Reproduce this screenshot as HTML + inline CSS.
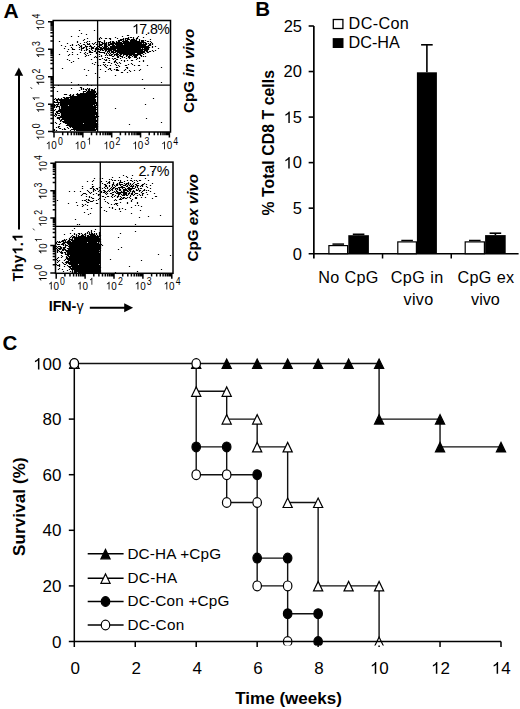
<!DOCTYPE html>
<html><head><meta charset="utf-8"><style>
html,body{margin:0;padding:0;background:#fff;overflow:hidden;}
svg{display:block;}
text{font-family:"Liberation Sans", sans-serif;fill:#000;}
</style></head><body>
<svg width="520" height="709" viewBox="0 0 520 709">
<defs><clipPath id="c0"><rect x="0" y="0" width="520" height="645.6"/></clipPath></defs>
<rect width="520" height="709" fill="#fff"/>
<text x="3.48" y="17.90" font-size="21" font-weight="bold" font-style="normal" letter-spacing="0.000">A</text>
<text x="255.27" y="16.00" font-size="20.5" font-weight="bold" font-style="normal" letter-spacing="0.000">B</text>
<text x="2.38" y="350.00" font-size="20.5" font-weight="bold" font-style="normal" letter-spacing="0.000">C</text>
<path d="M78.9 29.9h1.2v1.2h-1.2zM93.9 29.9h1.2v1.2h-1.2zM80.9 32.9h1.2v1.2h-1.2zM85.9 33.9h1.2v1.2h-1.2zM145.9 33.9h1.2v1.2h-1.2zM126.9 34.9h2.2v1.2h-2.2zM70.9 35.9h1.2v1.2h-1.2zM77.9 35.9h1.2v1.2h-1.2zM121.9 35.9h1.2v1.2h-1.2zM137.9 35.9h1.2v1.2h-1.2zM99.9 36.9h1.2v1.2h-1.2zM114.9 36.9h1.2v1.2h-1.2zM127.9 36.9h1.2v1.2h-1.2zM129.9 36.9h2.2v1.2h-2.2zM132.9 36.9h1.2v1.2h-1.2zM136.9 36.9h1.2v1.2h-1.2zM142.9 36.9h1.2v1.2h-1.2zM86.9 37.9h1.2v1.2h-1.2zM98.9 37.9h1.2v1.2h-1.2zM100.9 37.9h1.2v1.2h-1.2zM104.9 37.9h2.2v1.2h-2.2zM108.9 37.9h2.2v1.2h-2.2zM116.9 37.9h1.2v1.2h-1.2zM122.9 37.9h1.2v1.2h-1.2zM124.9 37.9h4.2v1.2h-4.2zM132.9 37.9h1.2v1.2h-1.2zM135.9 37.9h2.2v1.2h-2.2zM83.9 38.9h1.2v1.2h-1.2zM98.9 38.9h1.2v1.2h-1.2zM109.9 38.9h1.2v1.2h-1.2zM119.9 38.9h4.2v1.2h-4.2zM124.9 38.9h1.2v1.2h-1.2zM126.9 38.9h3.2v1.2h-3.2zM130.9 38.9h4.2v1.2h-4.2zM135.9 38.9h1.2v1.2h-1.2zM138.9 38.9h1.2v1.2h-1.2zM149.9 38.9h1.2v1.2h-1.2zM82.9 39.9h1.2v1.2h-1.2zM103.9 39.9h1.2v1.2h-1.2zM117.9 39.9h4.2v1.2h-4.2zM122.9 39.9h1.2v1.2h-1.2zM124.9 39.9h3.2v1.2h-3.2zM129.9 39.9h7.2v1.2h-7.2zM138.9 39.9h1.2v1.2h-1.2zM140.9 39.9h3.2v1.2h-3.2zM144.9 39.9h1.2v1.2h-1.2zM58.9 40.9h1.2v1.2h-1.2zM76.9 40.9h1.2v1.2h-1.2zM86.9 40.9h1.2v1.2h-1.2zM88.9 40.9h1.2v1.2h-1.2zM97.9 40.9h3.2v1.2h-3.2zM103.9 40.9h1.2v1.2h-1.2zM109.9 40.9h1.2v1.2h-1.2zM111.9 40.9h2.2v1.2h-2.2zM115.9 40.9h1.2v1.2h-1.2zM117.9 40.9h2.2v1.2h-2.2zM121.9 40.9h7.2v1.2h-7.2zM129.9 40.9h10.2v1.2h-10.2zM140.9 40.9h3.2v1.2h-3.2zM146.9 40.9h2.2v1.2h-2.2zM149.9 40.9h1.2v1.2h-1.2zM76.9 41.9h1.2v1.2h-1.2zM83.9 41.9h1.2v1.2h-1.2zM85.9 41.9h1.2v1.2h-1.2zM94.9 41.9h1.2v1.2h-1.2zM96.9 41.9h1.2v1.2h-1.2zM98.9 41.9h1.2v1.2h-1.2zM100.9 41.9h2.2v1.2h-2.2zM103.9 41.9h1.2v1.2h-1.2zM105.9 41.9h1.2v1.2h-1.2zM107.9 41.9h3.2v1.2h-3.2zM111.9 41.9h3.2v1.2h-3.2zM115.9 41.9h6.2v1.2h-6.2zM122.9 41.9h23.2v1.2h-23.2zM150.9 41.9h1.2v1.2h-1.2zM66.9 42.9h1.2v1.2h-1.2zM79.9 42.9h1.2v1.2h-1.2zM86.9 42.9h1.2v1.2h-1.2zM88.9 42.9h1.2v1.2h-1.2zM91.9 42.9h1.2v1.2h-1.2zM93.9 42.9h1.2v1.2h-1.2zM98.9 42.9h1.2v1.2h-1.2zM101.9 42.9h5.2v1.2h-5.2zM107.9 42.9h1.2v1.2h-1.2zM109.9 42.9h32.2v1.2h-32.2zM142.9 42.9h1.2v1.2h-1.2zM144.9 42.9h2.2v1.2h-2.2zM147.9 42.9h1.2v1.2h-1.2zM149.9 42.9h1.2v1.2h-1.2zM151.9 42.9h1.2v1.2h-1.2zM71.9 43.9h1.2v1.2h-1.2zM77.9 43.9h1.2v1.2h-1.2zM82.9 43.9h2.2v1.2h-2.2zM86.9 43.9h3.2v1.2h-3.2zM92.9 43.9h1.2v1.2h-1.2zM95.9 43.9h2.2v1.2h-2.2zM98.9 43.9h4.2v1.2h-4.2zM103.9 43.9h3.2v1.2h-3.2zM107.9 43.9h6.2v1.2h-6.2zM114.9 43.9h8.2v1.2h-8.2zM123.9 43.9h23.2v1.2h-23.2zM148.9 43.9h2.2v1.2h-2.2zM151.9 43.9h1.2v1.2h-1.2zM60.9 44.9h1.2v1.2h-1.2zM69.9 44.9h1.2v1.2h-1.2zM71.9 44.9h1.2v1.2h-1.2zM75.9 44.9h1.2v1.2h-1.2zM78.9 44.9h1.2v1.2h-1.2zM80.9 44.9h1.2v1.2h-1.2zM84.9 44.9h1.2v1.2h-1.2zM89.9 44.9h1.2v1.2h-1.2zM98.9 44.9h3.2v1.2h-3.2zM103.9 44.9h3.2v1.2h-3.2zM107.9 44.9h2.2v1.2h-2.2zM111.9 44.9h3.2v1.2h-3.2zM115.9 44.9h30.2v1.2h-30.2zM147.9 44.9h3.2v1.2h-3.2zM64.9 45.9h1.2v1.2h-1.2zM79.9 45.9h2.2v1.2h-2.2zM84.9 45.9h3.2v1.2h-3.2zM88.9 45.9h3.2v1.2h-3.2zM93.9 45.9h1.2v1.2h-1.2zM97.9 45.9h2.2v1.2h-2.2zM101.9 45.9h1.2v1.2h-1.2zM103.9 45.9h4.2v1.2h-4.2zM109.9 45.9h39.2v1.2h-39.2zM151.9 45.9h1.2v1.2h-1.2zM154.9 45.9h1.2v1.2h-1.2zM70.9 46.9h1.2v1.2h-1.2zM78.9 46.9h1.2v1.2h-1.2zM80.9 46.9h1.2v1.2h-1.2zM82.9 46.9h2.2v1.2h-2.2zM85.9 46.9h1.2v1.2h-1.2zM90.9 46.9h3.2v1.2h-3.2zM95.9 46.9h1.2v1.2h-1.2zM98.9 46.9h3.2v1.2h-3.2zM102.9 46.9h4.2v1.2h-4.2zM107.9 46.9h1.2v1.2h-1.2zM109.9 46.9h40.2v1.2h-40.2zM151.9 46.9h1.2v1.2h-1.2zM63.9 47.9h1.2v1.2h-1.2zM71.9 47.9h1.2v1.2h-1.2zM80.9 47.9h3.2v1.2h-3.2zM85.9 47.9h1.2v1.2h-1.2zM88.9 47.9h1.2v1.2h-1.2zM90.9 47.9h3.2v1.2h-3.2zM94.9 47.9h4.2v1.2h-4.2zM99.9 47.9h41.2v1.2h-41.2zM141.9 47.9h1.2v1.2h-1.2zM143.9 47.9h5.2v1.2h-5.2zM157.9 47.9h1.2v1.2h-1.2zM67.9 48.9h1.2v1.2h-1.2zM71.9 48.9h3.2v1.2h-3.2zM78.9 48.9h1.2v1.2h-1.2zM80.9 48.9h1.2v1.2h-1.2zM85.9 48.9h2.2v1.2h-2.2zM90.9 48.9h1.2v1.2h-1.2zM94.9 48.9h2.2v1.2h-2.2zM97.9 48.9h5.2v1.2h-5.2zM103.9 48.9h12.2v1.2h-12.2zM116.9 48.9h32.2v1.2h-32.2zM80.9 49.9h1.2v1.2h-1.2zM83.9 49.9h1.2v1.2h-1.2zM85.9 49.9h1.2v1.2h-1.2zM88.9 49.9h1.2v1.2h-1.2zM91.9 49.9h1.2v1.2h-1.2zM94.9 49.9h1.2v1.2h-1.2zM96.9 49.9h1.2v1.2h-1.2zM99.9 49.9h1.2v1.2h-1.2zM101.9 49.9h2.2v1.2h-2.2zM104.9 49.9h2.2v1.2h-2.2zM107.9 49.9h4.2v1.2h-4.2zM112.9 49.9h30.2v1.2h-30.2zM143.9 49.9h4.2v1.2h-4.2zM151.9 49.9h1.2v1.2h-1.2zM154.9 49.9h1.2v1.2h-1.2zM66.9 50.9h1.2v1.2h-1.2zM88.9 50.9h2.2v1.2h-2.2zM93.9 50.9h2.2v1.2h-2.2zM97.9 50.9h2.2v1.2h-2.2zM104.9 50.9h1.2v1.2h-1.2zM106.9 50.9h3.2v1.2h-3.2zM110.9 50.9h3.2v1.2h-3.2zM114.9 50.9h30.2v1.2h-30.2zM145.9 50.9h2.2v1.2h-2.2zM148.9 50.9h2.2v1.2h-2.2zM152.9 50.9h1.2v1.2h-1.2zM71.9 51.9h1.2v1.2h-1.2zM79.9 51.9h1.2v1.2h-1.2zM84.9 51.9h1.2v1.2h-1.2zM88.9 51.9h4.2v1.2h-4.2zM95.9 51.9h1.2v1.2h-1.2zM98.9 51.9h6.2v1.2h-6.2zM106.9 51.9h1.2v1.2h-1.2zM108.9 51.9h1.2v1.2h-1.2zM110.9 51.9h5.2v1.2h-5.2zM116.9 51.9h28.2v1.2h-28.2zM146.9 51.9h2.2v1.2h-2.2zM83.9 52.9h1.2v1.2h-1.2zM86.9 52.9h1.2v1.2h-1.2zM95.9 52.9h1.2v1.2h-1.2zM103.9 52.9h1.2v1.2h-1.2zM105.9 52.9h1.2v1.2h-1.2zM107.9 52.9h1.2v1.2h-1.2zM109.9 52.9h1.2v1.2h-1.2zM112.9 52.9h1.2v1.2h-1.2zM115.9 52.9h2.2v1.2h-2.2zM118.9 52.9h16.2v1.2h-16.2zM136.9 52.9h6.2v1.2h-6.2zM144.9 52.9h1.2v1.2h-1.2zM58.9 53.9h1.2v1.2h-1.2zM68.9 53.9h1.2v1.2h-1.2zM71.9 53.9h1.2v1.2h-1.2zM76.9 53.9h1.2v1.2h-1.2zM84.9 53.9h1.2v1.2h-1.2zM89.9 53.9h1.2v1.2h-1.2zM98.9 53.9h1.2v1.2h-1.2zM105.9 53.9h1.2v1.2h-1.2zM108.9 53.9h1.2v1.2h-1.2zM110.9 53.9h2.2v1.2h-2.2zM113.9 53.9h5.2v1.2h-5.2zM119.9 53.9h2.2v1.2h-2.2zM122.9 53.9h18.2v1.2h-18.2zM142.9 53.9h1.2v1.2h-1.2zM67.9 54.9h1.2v1.2h-1.2zM85.9 54.9h1.2v1.2h-1.2zM87.9 54.9h1.2v1.2h-1.2zM100.9 54.9h1.2v1.2h-1.2zM104.9 54.9h1.2v1.2h-1.2zM106.9 54.9h1.2v1.2h-1.2zM108.9 54.9h3.2v1.2h-3.2zM113.9 54.9h1.2v1.2h-1.2zM115.9 54.9h2.2v1.2h-2.2zM118.9 54.9h2.2v1.2h-2.2zM122.9 54.9h1.2v1.2h-1.2zM125.9 54.9h2.2v1.2h-2.2zM128.9 54.9h3.2v1.2h-3.2zM132.9 54.9h5.2v1.2h-5.2zM139.9 54.9h2.2v1.2h-2.2zM84.9 55.9h1.2v1.2h-1.2zM94.9 55.9h1.2v1.2h-1.2zM98.9 55.9h1.2v1.2h-1.2zM100.9 55.9h1.2v1.2h-1.2zM111.9 55.9h2.2v1.2h-2.2zM116.9 55.9h2.2v1.2h-2.2zM119.9 55.9h3.2v1.2h-3.2zM125.9 55.9h1.2v1.2h-1.2zM127.9 55.9h2.2v1.2h-2.2zM131.9 55.9h1.2v1.2h-1.2zM133.9 55.9h3.2v1.2h-3.2zM140.9 55.9h1.2v1.2h-1.2zM142.9 55.9h1.2v1.2h-1.2zM144.9 55.9h1.2v1.2h-1.2zM93.9 56.9h1.2v1.2h-1.2zM95.9 56.9h1.2v1.2h-1.2zM104.9 56.9h1.2v1.2h-1.2zM106.9 56.9h1.2v1.2h-1.2zM116.9 56.9h2.2v1.2h-2.2zM121.9 56.9h1.2v1.2h-1.2zM123.9 56.9h1.2v1.2h-1.2zM127.9 56.9h3.2v1.2h-3.2zM133.9 56.9h3.2v1.2h-3.2zM138.9 56.9h1.2v1.2h-1.2zM77.9 57.9h1.2v1.2h-1.2zM101.9 57.9h1.2v1.2h-1.2zM107.9 57.9h2.2v1.2h-2.2zM111.9 57.9h1.2v1.2h-1.2zM113.9 57.9h2.2v1.2h-2.2zM119.9 57.9h1.2v1.2h-1.2zM125.9 57.9h1.2v1.2h-1.2zM128.9 57.9h1.2v1.2h-1.2zM136.9 57.9h1.2v1.2h-1.2zM138.9 57.9h1.2v1.2h-1.2zM66.9 58.9h1.2v1.2h-1.2zM90.9 58.9h1.2v1.2h-1.2zM98.9 58.9h2.2v1.2h-2.2zM103.9 58.9h1.2v1.2h-1.2zM105.9 58.9h1.2v1.2h-1.2zM112.9 58.9h1.2v1.2h-1.2zM115.9 58.9h2.2v1.2h-2.2zM135.9 58.9h1.2v1.2h-1.2zM68.9 59.9h1.2v1.2h-1.2zM104.9 59.9h2.2v1.2h-2.2zM108.9 59.9h1.2v1.2h-1.2zM114.9 59.9h1.2v1.2h-1.2zM120.9 59.9h1.2v1.2h-1.2zM123.9 59.9h1.2v1.2h-1.2zM126.9 59.9h1.2v1.2h-1.2zM130.9 59.9h2.2v1.2h-2.2zM142.9 59.9h1.2v1.2h-1.2zM72.9 60.9h1.2v1.2h-1.2zM113.9 60.9h2.2v1.2h-2.2zM123.9 60.9h1.2v1.2h-1.2zM138.9 60.9h1.2v1.2h-1.2zM142.9 60.9h1.2v1.2h-1.2zM70.9 61.9h1.2v1.2h-1.2zM94.9 61.9h1.2v1.2h-1.2zM96.9 61.9h1.2v1.2h-1.2zM102.9 61.9h2.2v1.2h-2.2zM107.9 61.9h2.2v1.2h-2.2zM113.9 61.9h1.2v1.2h-1.2zM115.9 61.9h1.2v1.2h-1.2zM118.9 61.9h1.2v1.2h-1.2zM91.9 62.9h1.2v1.2h-1.2zM110.9 62.9h1.2v1.2h-1.2zM116.9 62.9h1.2v1.2h-1.2zM119.9 62.9h1.2v1.2h-1.2zM130.9 62.9h1.2v1.2h-1.2zM93.9 63.9h1.2v1.2h-1.2zM102.9 63.9h1.2v1.2h-1.2zM104.9 63.9h1.2v1.2h-1.2zM114.9 63.9h1.2v1.2h-1.2zM127.9 63.9h1.2v1.2h-1.2zM131.9 63.9h1.2v1.2h-1.2zM97.9 64.9h1.2v1.2h-1.2zM99.9 64.9h1.2v1.2h-1.2zM103.9 64.9h1.2v1.2h-1.2zM106.9 64.9h1.2v1.2h-1.2zM109.9 64.9h1.2v1.2h-1.2zM115.9 64.9h1.2v1.2h-1.2zM117.9 64.9h1.2v1.2h-1.2zM124.9 64.9h2.2v1.2h-2.2zM133.9 64.9h1.2v1.2h-1.2zM137.9 64.9h2.2v1.2h-2.2zM146.9 64.9h1.2v1.2h-1.2zM104.9 65.9h1.2v1.2h-1.2zM118.9 65.9h1.2v1.2h-1.2zM105.9 66.9h1.2v1.2h-1.2zM115.9 66.9h2.2v1.2h-2.2zM125.9 66.9h2.2v1.2h-2.2zM160.9 66.9h1.2v1.2h-1.2zM61.9 67.9h1.2v1.2h-1.2zM108.9 67.9h2.2v1.2h-2.2zM126.9 67.9h1.2v1.2h-1.2zM83.9 68.9h1.2v1.2h-1.2zM99.9 68.9h1.2v1.2h-1.2zM107.9 68.9h1.2v1.2h-1.2zM109.9 68.9h1.2v1.2h-1.2zM113.9 68.9h1.2v1.2h-1.2zM115.9 68.9h2.2v1.2h-2.2zM124.9 68.9h1.2v1.2h-1.2zM139.9 68.9h1.2v1.2h-1.2zM87.9 69.9h1.2v1.2h-1.2zM110.9 69.9h1.2v1.2h-1.2zM115.9 69.9h3.2v1.2h-3.2zM123.9 69.9h1.2v1.2h-1.2zM128.9 69.9h1.2v1.2h-1.2zM133.9 69.9h1.2v1.2h-1.2zM138.9 69.9h1.2v1.2h-1.2zM104.9 70.9h1.2v1.2h-1.2zM129.9 70.9h1.2v1.2h-1.2zM120.9 71.9h2.2v1.2h-2.2zM126.9 71.9h1.2v1.2h-1.2zM94.9 72.9h1.2v1.2h-1.2zM85.9 74.9h1.2v1.2h-1.2zM114.9 74.9h1.2v1.2h-1.2zM98.9 76.9h1.2v1.2h-1.2zM141.9 78.9h1.2v1.2h-1.2zM70.9 81.9h1.2v1.2h-1.2zM160.9 81.9h1.2v1.2h-1.2zM77.9 83.9h1.2v1.2h-1.2zM86.9 83.9h1.2v1.2h-1.2zM57.9 84.9h1.2v1.2h-1.2zM90.9 84.9h1.2v1.2h-1.2zM53.9 86.9h1.2v1.2h-1.2zM79.9 86.9h2.2v1.2h-2.2zM70.9 87.9h1.2v1.2h-1.2zM80.9 87.9h1.2v1.2h-1.2zM82.9 87.9h1.2v1.2h-1.2zM86.9 87.9h1.2v1.2h-1.2zM88.9 87.9h1.2v1.2h-1.2zM94.9 87.9h1.2v1.2h-1.2zM143.9 87.9h1.2v1.2h-1.2zM80.9 88.9h1.2v1.2h-1.2zM82.9 88.9h1.2v1.2h-1.2zM84.9 88.9h2.2v1.2h-2.2zM87.9 88.9h2.2v1.2h-2.2zM90.9 88.9h2.2v1.2h-2.2zM93.9 88.9h1.2v1.2h-1.2zM78.9 89.9h1.2v1.2h-1.2zM85.9 89.9h1.2v1.2h-1.2zM87.9 89.9h2.2v1.2h-2.2zM90.9 89.9h4.2v1.2h-4.2zM56.9 90.9h1.2v1.2h-1.2zM82.9 90.9h3.2v1.2h-3.2zM86.9 90.9h9.2v1.2h-9.2zM82.9 91.9h1.2v1.2h-1.2zM85.9 91.9h10.2v1.2h-10.2zM96.9 91.9h1.2v1.2h-1.2zM76.9 92.9h1.2v1.2h-1.2zM79.9 92.9h15.2v1.2h-15.2zM95.9 92.9h2.2v1.2h-2.2zM63.9 93.9h3.2v1.2h-3.2zM69.9 93.9h1.2v1.2h-1.2zM72.9 93.9h1.2v1.2h-1.2zM75.9 93.9h21.2v1.2h-21.2zM68.9 94.9h2.2v1.2h-2.2zM71.9 94.9h2.2v1.2h-2.2zM76.9 94.9h19.2v1.2h-19.2zM69.9 95.9h27.2v1.2h-27.2zM62.9 96.9h2.2v1.2h-2.2zM65.9 96.9h30.2v1.2h-30.2zM96.9 96.9h1.2v1.2h-1.2zM54.9 97.9h1.2v1.2h-1.2zM57.9 97.9h1.2v1.2h-1.2zM60.9 97.9h1.2v1.2h-1.2zM63.9 97.9h5.2v1.2h-5.2zM69.9 97.9h25.2v1.2h-25.2zM152.9 97.9h1.2v1.2h-1.2zM53.9 98.9h1.2v1.2h-1.2zM55.9 98.9h40.2v1.2h-40.2zM55.9 99.9h2.2v1.2h-2.2zM58.9 99.9h37.2v1.2h-37.2zM53.9 100.9h1.2v1.2h-1.2zM56.9 100.9h1.2v1.2h-1.2zM59.9 100.9h36.2v1.2h-36.2zM53.9 101.9h43.2v1.2h-43.2zM57.9 102.9h1.2v1.2h-1.2zM59.9 102.9h37.2v1.2h-37.2zM53.9 103.9h1.2v1.2h-1.2zM55.9 103.9h3.2v1.2h-3.2zM59.9 103.9h35.2v1.2h-35.2zM95.9 103.9h1.2v1.2h-1.2zM144.9 103.9h1.2v1.2h-1.2zM53.9 104.9h2.2v1.2h-2.2zM56.9 104.9h1.2v1.2h-1.2zM59.9 104.9h8.2v1.2h-8.2zM68.9 104.9h24.2v1.2h-24.2zM93.9 104.9h4.2v1.2h-4.2zM53.9 105.9h1.2v1.2h-1.2zM55.9 105.9h4.2v1.2h-4.2zM60.9 105.9h35.2v1.2h-35.2zM53.9 106.9h1.2v1.2h-1.2zM55.9 106.9h1.2v1.2h-1.2zM58.9 106.9h1.2v1.2h-1.2zM60.9 106.9h36.2v1.2h-36.2zM58.9 107.9h1.2v1.2h-1.2zM60.9 107.9h35.2v1.2h-35.2zM114.9 107.9h1.2v1.2h-1.2zM54.9 108.9h1.2v1.2h-1.2zM58.9 108.9h38.2v1.2h-38.2zM53.9 109.9h1.2v1.2h-1.2zM57.9 109.9h38.2v1.2h-38.2zM55.9 110.9h40.2v1.2h-40.2zM55.9 111.9h2.2v1.2h-2.2zM59.9 111.9h37.2v1.2h-37.2zM54.9 112.9h1.2v1.2h-1.2zM56.9 112.9h3.2v1.2h-3.2zM60.9 112.9h37.2v1.2h-37.2zM54.9 113.9h2.2v1.2h-2.2zM60.9 113.9h36.2v1.2h-36.2zM53.9 114.9h1.2v1.2h-1.2zM55.9 114.9h1.2v1.2h-1.2zM57.9 114.9h2.2v1.2h-2.2zM60.9 114.9h34.2v1.2h-34.2zM95.9 114.9h1.2v1.2h-1.2zM54.9 115.9h1.2v1.2h-1.2zM59.9 115.9h37.2v1.2h-37.2zM97.9 115.9h1.2v1.2h-1.2zM56.9 116.9h40.2v1.2h-40.2zM56.9 117.9h3.2v1.2h-3.2zM61.9 117.9h34.2v1.2h-34.2zM96.9 117.9h1.2v1.2h-1.2zM145.9 117.9h1.2v1.2h-1.2zM58.9 118.9h1.2v1.2h-1.2zM60.9 118.9h35.2v1.2h-35.2zM96.9 118.9h1.2v1.2h-1.2zM59.9 119.9h2.2v1.2h-2.2zM63.9 119.9h34.2v1.2h-34.2zM59.9 120.9h1.2v1.2h-1.2zM61.9 120.9h35.2v1.2h-35.2zM54.9 121.9h1.2v1.2h-1.2zM62.9 121.9h33.2v1.2h-33.2zM160.9 121.9h1.2v1.2h-1.2zM55.9 122.9h1.2v1.2h-1.2zM59.9 122.9h1.2v1.2h-1.2zM64.9 122.9h18.2v1.2h-18.2zM83.9 122.9h13.2v1.2h-13.2zM58.9 123.9h1.2v1.2h-1.2zM66.9 123.9h31.2v1.2h-31.2zM128.9 123.9h1.2v1.2h-1.2zM65.9 124.9h31.2v1.2h-31.2zM57.9 125.9h2.2v1.2h-2.2zM68.9 125.9h29.2v1.2h-29.2zM55.9 126.9h1.2v1.2h-1.2zM57.9 126.9h1.2v1.2h-1.2zM66.9 126.9h1.2v1.2h-1.2zM69.9 126.9h1.2v1.2h-1.2zM71.9 126.9h25.2v1.2h-25.2zM58.9 127.9h2.2v1.2h-2.2zM63.9 127.9h1.2v1.2h-1.2zM67.9 127.9h1.2v1.2h-1.2zM72.9 127.9h22.2v1.2h-22.2zM95.9 127.9h1.2v1.2h-1.2zM53.9 128.9h1.2v1.2h-1.2zM61.9 128.9h1.2v1.2h-1.2zM63.9 128.9h2.2v1.2h-2.2zM70.9 128.9h26.2v1.2h-26.2zM53.9 129.9h1.2v1.2h-1.2zM55.9 129.9h1.2v1.2h-1.2zM69.9 129.9h1.2v1.2h-1.2zM73.9 129.9h1.2v1.2h-1.2zM75.9 129.9h20.2v1.2h-20.2z" fill="#000"/>
<rect x="53.20" y="20.50" width="117.30" height="111.50" fill="none" stroke="#000" stroke-width="1.5"/>
<line x1="97.60" y1="20.50" x2="97.60" y2="132.00" stroke="#000" stroke-width="1.3"/>
<line x1="53.20" y1="85.20" x2="170.50" y2="85.20" stroke="#000" stroke-width="1.3"/>
<path d="M54.00 132.00v5.5M62.68 132.00v3.2M67.76 132.00v3.2M71.37 132.00v3.2M74.17 132.00v3.2M76.45 132.00v3.2M78.38 132.00v3.2M80.05 132.00v3.2M81.53 132.00v3.2M82.85 132.00v5.5M91.53 132.00v3.2M96.61 132.00v3.2M100.22 132.00v3.2M103.02 132.00v3.2M105.30 132.00v3.2M107.23 132.00v3.2M108.90 132.00v3.2M110.38 132.00v3.2M111.70 132.00v5.5M120.38 132.00v3.2M125.46 132.00v3.2M129.07 132.00v3.2M131.87 132.00v3.2M134.15 132.00v3.2M136.08 132.00v3.2M137.75 132.00v3.2M139.23 132.00v3.2M140.55 132.00v5.5M149.23 132.00v3.2M154.31 132.00v3.2M157.92 132.00v3.2M160.72 132.00v3.2M163.00 132.00v3.2M164.93 132.00v3.2M166.60 132.00v3.2M168.08 132.00v3.2M169.40 132.00v5.5M53.20 131.60h-5.2M53.20 123.34h-2.8M53.20 118.50h-2.8M53.20 115.07h-2.8M53.20 112.41h-2.8M53.20 110.24h-2.8M53.20 108.40h-2.8M53.20 106.81h-2.8M53.20 105.41h-2.8M53.20 104.15h-5.2M53.20 95.89h-2.8M53.20 91.05h-2.8M53.20 87.62h-2.8M53.20 84.96h-2.8M53.20 82.79h-2.8M53.20 80.95h-2.8M53.20 79.36h-2.8M53.20 77.96h-2.8M53.20 76.70h-5.2M53.20 68.44h-2.8M53.20 63.60h-2.8M53.20 60.17h-2.8M53.20 57.51h-2.8M53.20 55.34h-2.8M53.20 53.50h-2.8M53.20 51.91h-2.8M53.20 50.51h-2.8M53.20 49.25h-5.2M53.20 40.99h-2.8M53.20 36.15h-2.8M53.20 32.72h-2.8M53.20 30.06h-2.8M53.20 27.89h-2.8M53.20 26.05h-2.8M53.20 24.46h-2.8M53.20 23.06h-2.8M53.20 21.80h-5.2" stroke="#000" stroke-width="1.5" fill="none"/>
<g transform="translate(45.80,149.30) scale(0.86,1)"><text x="0.00" y="0.00" font-size="11.5" font-weight="normal" font-style="normal" letter-spacing="0.000"> 0</text><path transform="translate(0.00,0.00) scale(0.005615,-0.005615)" d="M763 0H583V1100Q518 1040 412 980Q307 920 223 890V1060Q374 1128 487 1225Q600 1322 647 1409H763Z" fill="#000"/><text x="14.09" y="-4.80" font-size="10.2" font-weight="normal" font-style="normal" letter-spacing="0.000">0</text></g>
<g transform="translate(74.65,149.30) scale(0.86,1)"><text x="0.00" y="0.00" font-size="11.5" font-weight="normal" font-style="normal" letter-spacing="0.000"> 0</text><path transform="translate(0.00,0.00) scale(0.005615,-0.005615)" d="M763 0H583V1100Q518 1040 412 980Q307 920 223 890V1060Q374 1128 487 1225Q600 1322 647 1409H763Z" fill="#000"/><text x="14.09" y="-4.80" font-size="10.2" font-weight="normal" font-style="normal" letter-spacing="0.000"> </text><path transform="translate(14.09,-4.80) scale(0.004980,-0.004980)" d="M763 0H583V1100Q518 1040 412 980Q307 920 223 890V1060Q374 1128 487 1225Q600 1322 647 1409H763Z" fill="#000"/></g>
<g transform="translate(103.50,149.30) scale(0.86,1)"><text x="0.00" y="0.00" font-size="11.5" font-weight="normal" font-style="normal" letter-spacing="0.000"> 0</text><path transform="translate(0.00,0.00) scale(0.005615,-0.005615)" d="M763 0H583V1100Q518 1040 412 980Q307 920 223 890V1060Q374 1128 487 1225Q600 1322 647 1409H763Z" fill="#000"/><text x="14.09" y="-4.80" font-size="10.2" font-weight="normal" font-style="normal" letter-spacing="0.000">2</text></g>
<g transform="translate(132.35,149.30) scale(0.86,1)"><text x="0.00" y="0.00" font-size="11.5" font-weight="normal" font-style="normal" letter-spacing="0.000"> 0</text><path transform="translate(0.00,0.00) scale(0.005615,-0.005615)" d="M763 0H583V1100Q518 1040 412 980Q307 920 223 890V1060Q374 1128 487 1225Q600 1322 647 1409H763Z" fill="#000"/><text x="14.09" y="-4.80" font-size="10.2" font-weight="normal" font-style="normal" letter-spacing="0.000">3</text></g>
<g transform="translate(161.20,149.30) scale(0.86,1)"><text x="0.00" y="0.00" font-size="11.5" font-weight="normal" font-style="normal" letter-spacing="0.000"> 0</text><path transform="translate(0.00,0.00) scale(0.005615,-0.005615)" d="M763 0H583V1100Q518 1040 412 980Q307 920 223 890V1060Q374 1128 487 1225Q600 1322 647 1409H763Z" fill="#000"/><text x="14.09" y="-4.80" font-size="10.2" font-weight="normal" font-style="normal" letter-spacing="0.000">4</text></g>
<g transform="translate(44.30,140.40) rotate(-90) scale(0.86,1)"><text x="0.00" y="0.00" font-size="11.5" font-weight="normal" font-style="normal" letter-spacing="0.000"> 0</text><path transform="translate(0.00,0.00) scale(0.005615,-0.005615)" d="M763 0H583V1100Q518 1040 412 980Q307 920 223 890V1060Q374 1128 487 1225Q600 1322 647 1409H763Z" fill="#000"/><text x="14.09" y="-4.80" font-size="10.2" font-weight="normal" font-style="normal" letter-spacing="0.000">0</text></g>
<g transform="translate(44.30,112.95) rotate(-90) scale(0.86,1)"><text x="0.00" y="0.00" font-size="11.5" font-weight="normal" font-style="normal" letter-spacing="0.000"> 0</text><path transform="translate(0.00,0.00) scale(0.005615,-0.005615)" d="M763 0H583V1100Q518 1040 412 980Q307 920 223 890V1060Q374 1128 487 1225Q600 1322 647 1409H763Z" fill="#000"/><text x="14.09" y="-4.80" font-size="10.2" font-weight="normal" font-style="normal" letter-spacing="0.000"> </text><path transform="translate(14.09,-4.80) scale(0.004980,-0.004980)" d="M763 0H583V1100Q518 1040 412 980Q307 920 223 890V1060Q374 1128 487 1225Q600 1322 647 1409H763Z" fill="#000"/></g>
<g transform="translate(44.30,85.50) rotate(-90) scale(0.86,1)"><text x="0.00" y="0.00" font-size="11.5" font-weight="normal" font-style="normal" letter-spacing="0.000"> 0</text><path transform="translate(0.00,0.00) scale(0.005615,-0.005615)" d="M763 0H583V1100Q518 1040 412 980Q307 920 223 890V1060Q374 1128 487 1225Q600 1322 647 1409H763Z" fill="#000"/><text x="14.09" y="-4.80" font-size="10.2" font-weight="normal" font-style="normal" letter-spacing="0.000">2</text></g>
<g transform="translate(44.30,58.05) rotate(-90) scale(0.86,1)"><text x="0.00" y="0.00" font-size="11.5" font-weight="normal" font-style="normal" letter-spacing="0.000"> 0</text><path transform="translate(0.00,0.00) scale(0.005615,-0.005615)" d="M763 0H583V1100Q518 1040 412 980Q307 920 223 890V1060Q374 1128 487 1225Q600 1322 647 1409H763Z" fill="#000"/><text x="14.09" y="-4.80" font-size="10.2" font-weight="normal" font-style="normal" letter-spacing="0.000">3</text></g>
<g transform="translate(44.30,30.60) rotate(-90) scale(0.86,1)"><text x="0.00" y="0.00" font-size="11.5" font-weight="normal" font-style="normal" letter-spacing="0.000"> 0</text><path transform="translate(0.00,0.00) scale(0.005615,-0.005615)" d="M763 0H583V1100Q518 1040 412 980Q307 920 223 890V1060Q374 1128 487 1225Q600 1322 647 1409H763Z" fill="#000"/><text x="14.09" y="-4.80" font-size="10.2" font-weight="normal" font-style="normal" letter-spacing="0.000">4</text></g>
<text x="132.05" y="33.70" font-size="14.2" font-weight="normal" font-style="normal" letter-spacing="-0.628"> 7.8%</text><path transform="translate(132.05,33.70) scale(0.006934,-0.006934)" d="M763 0H583V1100Q518 1040 412 980Q307 920 223 890V1060Q374 1128 487 1225Q600 1322 647 1409H763Z" fill="#000"/>
<path d="M151.9 170.9h1.2v1.2h-1.2zM122.9 174.9h1.2v1.2h-1.2zM131.9 174.9h1.2v1.2h-1.2zM125.9 175.9h1.2v1.2h-1.2zM111.9 176.9h1.2v1.2h-1.2zM118.9 176.9h1.2v1.2h-1.2zM126.9 176.9h1.2v1.2h-1.2zM93.9 177.9h1.2v1.2h-1.2zM99.9 177.9h1.2v1.2h-1.2zM101.9 177.9h1.2v1.2h-1.2zM130.9 177.9h1.2v1.2h-1.2zM144.9 177.9h1.2v1.2h-1.2zM108.9 178.9h1.2v1.2h-1.2zM110.9 178.9h1.2v1.2h-1.2zM92.9 179.9h1.2v1.2h-1.2zM111.9 179.9h1.2v1.2h-1.2zM113.9 179.9h2.2v1.2h-2.2zM117.9 179.9h1.2v1.2h-1.2zM119.9 179.9h1.2v1.2h-1.2zM126.9 179.9h1.2v1.2h-1.2zM129.9 179.9h2.2v1.2h-2.2zM133.9 179.9h1.2v1.2h-1.2zM135.9 179.9h1.2v1.2h-1.2zM138.9 179.9h2.2v1.2h-2.2zM147.9 179.9h1.2v1.2h-1.2zM86.9 180.9h1.2v1.2h-1.2zM91.9 180.9h1.2v1.2h-1.2zM100.9 180.9h1.2v1.2h-1.2zM105.9 180.9h1.2v1.2h-1.2zM108.9 180.9h1.2v1.2h-1.2zM119.9 180.9h1.2v1.2h-1.2zM123.9 180.9h1.2v1.2h-1.2zM131.9 180.9h1.2v1.2h-1.2zM136.9 180.9h1.2v1.2h-1.2zM99.9 181.9h1.2v1.2h-1.2zM107.9 181.9h2.2v1.2h-2.2zM112.9 181.9h1.2v1.2h-1.2zM118.9 181.9h4.2v1.2h-4.2zM127.9 181.9h1.2v1.2h-1.2zM133.9 181.9h1.2v1.2h-1.2zM101.9 182.9h1.2v1.2h-1.2zM106.9 182.9h1.2v1.2h-1.2zM108.9 182.9h1.2v1.2h-1.2zM112.9 182.9h1.2v1.2h-1.2zM116.9 182.9h1.2v1.2h-1.2zM118.9 182.9h1.2v1.2h-1.2zM123.9 182.9h1.2v1.2h-1.2zM125.9 182.9h3.2v1.2h-3.2zM129.9 182.9h1.2v1.2h-1.2zM132.9 182.9h1.2v1.2h-1.2zM136.9 182.9h2.2v1.2h-2.2zM143.9 182.9h1.2v1.2h-1.2zM151.9 182.9h1.2v1.2h-1.2zM91.9 183.9h1.2v1.2h-1.2zM103.9 183.9h2.2v1.2h-2.2zM111.9 183.9h2.2v1.2h-2.2zM115.9 183.9h2.2v1.2h-2.2zM118.9 183.9h4.2v1.2h-4.2zM124.9 183.9h2.2v1.2h-2.2zM127.9 183.9h1.2v1.2h-1.2zM129.9 183.9h1.2v1.2h-1.2zM131.9 183.9h1.2v1.2h-1.2zM134.9 183.9h2.2v1.2h-2.2zM141.9 183.9h2.2v1.2h-2.2zM145.9 183.9h1.2v1.2h-1.2zM104.9 184.9h2.2v1.2h-2.2zM108.9 184.9h1.2v1.2h-1.2zM111.9 184.9h1.2v1.2h-1.2zM113.9 184.9h1.2v1.2h-1.2zM115.9 184.9h2.2v1.2h-2.2zM119.9 184.9h1.2v1.2h-1.2zM122.9 184.9h3.2v1.2h-3.2zM126.9 184.9h1.2v1.2h-1.2zM128.9 184.9h1.2v1.2h-1.2zM130.9 184.9h1.2v1.2h-1.2zM132.9 184.9h1.2v1.2h-1.2zM135.9 184.9h3.2v1.2h-3.2zM140.9 184.9h2.2v1.2h-2.2zM149.9 184.9h1.2v1.2h-1.2zM81.9 185.9h1.2v1.2h-1.2zM91.9 185.9h2.2v1.2h-2.2zM104.9 185.9h2.2v1.2h-2.2zM108.9 185.9h1.2v1.2h-1.2zM111.9 185.9h1.2v1.2h-1.2zM114.9 185.9h1.2v1.2h-1.2zM120.9 185.9h2.2v1.2h-2.2zM125.9 185.9h2.2v1.2h-2.2zM129.9 185.9h4.2v1.2h-4.2zM134.9 185.9h1.2v1.2h-1.2zM136.9 185.9h1.2v1.2h-1.2zM139.9 185.9h1.2v1.2h-1.2zM141.9 185.9h1.2v1.2h-1.2zM145.9 185.9h1.2v1.2h-1.2zM91.9 186.9h1.2v1.2h-1.2zM98.9 186.9h2.2v1.2h-2.2zM103.9 186.9h1.2v1.2h-1.2zM106.9 186.9h1.2v1.2h-1.2zM110.9 186.9h1.2v1.2h-1.2zM112.9 186.9h2.2v1.2h-2.2zM117.9 186.9h7.2v1.2h-7.2zM127.9 186.9h2.2v1.2h-2.2zM131.9 186.9h1.2v1.2h-1.2zM134.9 186.9h1.2v1.2h-1.2zM136.9 186.9h1.2v1.2h-1.2zM146.9 186.9h1.2v1.2h-1.2zM81.9 187.9h1.2v1.2h-1.2zM89.9 187.9h2.2v1.2h-2.2zM92.9 187.9h1.2v1.2h-1.2zM95.9 187.9h2.2v1.2h-2.2zM101.9 187.9h1.2v1.2h-1.2zM104.9 187.9h1.2v1.2h-1.2zM106.9 187.9h1.2v1.2h-1.2zM109.9 187.9h1.2v1.2h-1.2zM111.9 187.9h2.2v1.2h-2.2zM114.9 187.9h3.2v1.2h-3.2zM118.9 187.9h1.2v1.2h-1.2zM121.9 187.9h1.2v1.2h-1.2zM124.9 187.9h1.2v1.2h-1.2zM126.9 187.9h8.2v1.2h-8.2zM137.9 187.9h1.2v1.2h-1.2zM139.9 187.9h2.2v1.2h-2.2zM149.9 187.9h1.2v1.2h-1.2zM92.9 188.9h2.2v1.2h-2.2zM96.9 188.9h1.2v1.2h-1.2zM99.9 188.9h1.2v1.2h-1.2zM108.9 188.9h1.2v1.2h-1.2zM110.9 188.9h2.2v1.2h-2.2zM114.9 188.9h1.2v1.2h-1.2zM116.9 188.9h1.2v1.2h-1.2zM118.9 188.9h2.2v1.2h-2.2zM122.9 188.9h4.2v1.2h-4.2zM127.9 188.9h4.2v1.2h-4.2zM135.9 188.9h1.2v1.2h-1.2zM137.9 188.9h1.2v1.2h-1.2zM143.9 188.9h1.2v1.2h-1.2zM86.9 189.9h1.2v1.2h-1.2zM92.9 189.9h1.2v1.2h-1.2zM94.9 189.9h1.2v1.2h-1.2zM98.9 189.9h1.2v1.2h-1.2zM102.9 189.9h2.2v1.2h-2.2zM107.9 189.9h1.2v1.2h-1.2zM109.9 189.9h1.2v1.2h-1.2zM111.9 189.9h1.2v1.2h-1.2zM115.9 189.9h1.2v1.2h-1.2zM118.9 189.9h2.2v1.2h-2.2zM122.9 189.9h5.2v1.2h-5.2zM128.9 189.9h2.2v1.2h-2.2zM132.9 189.9h1.2v1.2h-1.2zM135.9 189.9h2.2v1.2h-2.2zM138.9 189.9h2.2v1.2h-2.2zM142.9 189.9h2.2v1.2h-2.2zM145.9 189.9h1.2v1.2h-1.2zM147.9 189.9h1.2v1.2h-1.2zM68.9 190.9h1.2v1.2h-1.2zM73.9 190.9h1.2v1.2h-1.2zM79.9 190.9h1.2v1.2h-1.2zM87.9 190.9h1.2v1.2h-1.2zM92.9 190.9h1.2v1.2h-1.2zM97.9 190.9h1.2v1.2h-1.2zM100.9 190.9h1.2v1.2h-1.2zM103.9 190.9h2.2v1.2h-2.2zM106.9 190.9h1.2v1.2h-1.2zM108.9 190.9h1.2v1.2h-1.2zM113.9 190.9h1.2v1.2h-1.2zM115.9 190.9h2.2v1.2h-2.2zM120.9 190.9h1.2v1.2h-1.2zM122.9 190.9h2.2v1.2h-2.2zM126.9 190.9h2.2v1.2h-2.2zM129.9 190.9h1.2v1.2h-1.2zM131.9 190.9h3.2v1.2h-3.2zM138.9 190.9h1.2v1.2h-1.2zM141.9 190.9h1.2v1.2h-1.2zM149.9 190.9h1.2v1.2h-1.2zM88.9 191.9h1.2v1.2h-1.2zM90.9 191.9h1.2v1.2h-1.2zM100.9 191.9h1.2v1.2h-1.2zM102.9 191.9h2.2v1.2h-2.2zM105.9 191.9h1.2v1.2h-1.2zM111.9 191.9h2.2v1.2h-2.2zM114.9 191.9h1.2v1.2h-1.2zM116.9 191.9h10.2v1.2h-10.2zM128.9 191.9h1.2v1.2h-1.2zM131.9 191.9h1.2v1.2h-1.2zM133.9 191.9h1.2v1.2h-1.2zM140.9 191.9h1.2v1.2h-1.2zM145.9 191.9h1.2v1.2h-1.2zM82.9 192.9h3.2v1.2h-3.2zM89.9 192.9h1.2v1.2h-1.2zM95.9 192.9h1.2v1.2h-1.2zM104.9 192.9h1.2v1.2h-1.2zM106.9 192.9h1.2v1.2h-1.2zM109.9 192.9h2.2v1.2h-2.2zM115.9 192.9h5.2v1.2h-5.2zM122.9 192.9h4.2v1.2h-4.2zM127.9 192.9h2.2v1.2h-2.2zM130.9 192.9h2.2v1.2h-2.2zM134.9 192.9h3.2v1.2h-3.2zM141.9 192.9h2.2v1.2h-2.2zM153.9 192.9h1.2v1.2h-1.2zM81.9 193.9h1.2v1.2h-1.2zM85.9 193.9h1.2v1.2h-1.2zM92.9 193.9h1.2v1.2h-1.2zM97.9 193.9h2.2v1.2h-2.2zM105.9 193.9h1.2v1.2h-1.2zM111.9 193.9h2.2v1.2h-2.2zM117.9 193.9h2.2v1.2h-2.2zM120.9 193.9h1.2v1.2h-1.2zM122.9 193.9h4.2v1.2h-4.2zM127.9 193.9h1.2v1.2h-1.2zM130.9 193.9h2.2v1.2h-2.2zM133.9 193.9h1.2v1.2h-1.2zM138.9 193.9h1.2v1.2h-1.2zM141.9 193.9h1.2v1.2h-1.2zM146.9 193.9h1.2v1.2h-1.2zM80.9 194.9h1.2v1.2h-1.2zM97.9 194.9h1.2v1.2h-1.2zM99.9 194.9h1.2v1.2h-1.2zM111.9 194.9h1.2v1.2h-1.2zM114.9 194.9h1.2v1.2h-1.2zM117.9 194.9h1.2v1.2h-1.2zM121.9 194.9h3.2v1.2h-3.2zM125.9 194.9h2.2v1.2h-2.2zM129.9 194.9h1.2v1.2h-1.2zM132.9 194.9h1.2v1.2h-1.2zM136.9 194.9h1.2v1.2h-1.2zM139.9 194.9h1.2v1.2h-1.2zM141.9 194.9h1.2v1.2h-1.2zM85.9 195.9h1.2v1.2h-1.2zM88.9 195.9h1.2v1.2h-1.2zM101.9 195.9h2.2v1.2h-2.2zM106.9 195.9h2.2v1.2h-2.2zM110.9 195.9h1.2v1.2h-1.2zM113.9 195.9h1.2v1.2h-1.2zM116.9 195.9h2.2v1.2h-2.2zM119.9 195.9h1.2v1.2h-1.2zM129.9 195.9h1.2v1.2h-1.2zM154.9 195.9h2.2v1.2h-2.2zM88.9 196.9h1.2v1.2h-1.2zM90.9 196.9h1.2v1.2h-1.2zM104.9 196.9h1.2v1.2h-1.2zM111.9 196.9h1.2v1.2h-1.2zM116.9 196.9h1.2v1.2h-1.2zM120.9 196.9h1.2v1.2h-1.2zM122.9 196.9h2.2v1.2h-2.2zM126.9 196.9h1.2v1.2h-1.2zM128.9 196.9h1.2v1.2h-1.2zM134.9 196.9h2.2v1.2h-2.2zM140.9 196.9h1.2v1.2h-1.2zM144.9 196.9h1.2v1.2h-1.2zM91.9 197.9h2.2v1.2h-2.2zM98.9 197.9h1.2v1.2h-1.2zM119.9 197.9h1.2v1.2h-1.2zM121.9 197.9h2.2v1.2h-2.2zM124.9 197.9h2.2v1.2h-2.2zM129.9 197.9h1.2v1.2h-1.2zM134.9 197.9h2.2v1.2h-2.2zM151.9 197.9h1.2v1.2h-1.2zM85.9 198.9h1.2v1.2h-1.2zM87.9 198.9h1.2v1.2h-1.2zM97.9 198.9h1.2v1.2h-1.2zM103.9 198.9h1.2v1.2h-1.2zM114.9 198.9h1.2v1.2h-1.2zM118.9 198.9h3.2v1.2h-3.2zM131.9 198.9h1.2v1.2h-1.2zM56.9 199.9h1.2v1.2h-1.2zM81.9 199.9h1.2v1.2h-1.2zM83.9 199.9h2.2v1.2h-2.2zM87.9 199.9h2.2v1.2h-2.2zM92.9 199.9h1.2v1.2h-1.2zM95.9 199.9h1.2v1.2h-1.2zM113.9 199.9h1.2v1.2h-1.2zM115.9 199.9h1.2v1.2h-1.2zM130.9 199.9h1.2v1.2h-1.2zM85.9 200.9h1.2v1.2h-1.2zM89.9 200.9h3.2v1.2h-3.2zM104.9 200.9h1.2v1.2h-1.2zM130.9 200.9h1.2v1.2h-1.2zM75.9 201.9h1.2v1.2h-1.2zM86.9 201.9h2.2v1.2h-2.2zM106.9 201.9h1.2v1.2h-1.2zM119.9 201.9h1.2v1.2h-1.2zM126.9 201.9h1.2v1.2h-1.2zM136.9 201.9h1.2v1.2h-1.2zM67.9 202.9h1.2v1.2h-1.2zM95.9 202.9h2.2v1.2h-2.2zM107.9 202.9h1.2v1.2h-1.2zM114.9 202.9h3.2v1.2h-3.2zM126.9 202.9h1.2v1.2h-1.2zM136.9 202.9h1.2v1.2h-1.2zM81.9 203.9h1.2v1.2h-1.2zM84.9 203.9h1.2v1.2h-1.2zM110.9 203.9h1.2v1.2h-1.2zM113.9 203.9h1.2v1.2h-1.2zM115.9 203.9h1.2v1.2h-1.2zM76.9 204.9h1.2v1.2h-1.2zM82.9 204.9h1.2v1.2h-1.2zM86.9 204.9h1.2v1.2h-1.2zM116.9 204.9h1.2v1.2h-1.2zM134.9 204.9h1.2v1.2h-1.2zM137.9 204.9h1.2v1.2h-1.2zM81.9 205.9h1.2v1.2h-1.2zM140.9 205.9h1.2v1.2h-1.2zM100.9 206.9h1.2v1.2h-1.2zM108.9 206.9h1.2v1.2h-1.2zM111.9 206.9h1.2v1.2h-1.2zM130.9 206.9h1.2v1.2h-1.2zM90.9 207.9h1.2v1.2h-1.2zM111.9 207.9h1.2v1.2h-1.2zM118.9 207.9h1.2v1.2h-1.2zM121.9 207.9h1.2v1.2h-1.2zM86.9 208.9h1.2v1.2h-1.2zM114.9 208.9h1.2v1.2h-1.2zM118.9 208.9h1.2v1.2h-1.2zM124.9 208.9h1.2v1.2h-1.2zM103.9 209.9h1.2v1.2h-1.2zM139.9 209.9h1.2v1.2h-1.2zM105.9 210.9h1.2v1.2h-1.2zM119.9 210.9h1.2v1.2h-1.2zM83.9 211.9h1.2v1.2h-1.2zM89.9 212.9h1.2v1.2h-1.2zM130.9 212.9h1.2v1.2h-1.2zM87.9 213.9h1.2v1.2h-1.2zM159.9 214.9h1.2v1.2h-1.2zM147.9 215.9h1.2v1.2h-1.2zM138.9 216.9h1.2v1.2h-1.2zM74.9 218.9h1.2v1.2h-1.2zM76.9 223.9h1.2v1.2h-1.2zM78.9 223.9h1.2v1.2h-1.2zM134.9 223.9h1.2v1.2h-1.2zM88.9 225.9h1.2v1.2h-1.2zM73.9 227.9h1.2v1.2h-1.2zM94.9 228.9h1.2v1.2h-1.2zM71.9 229.9h1.2v1.2h-1.2zM90.9 229.9h1.2v1.2h-1.2zM87.9 230.9h1.2v1.2h-1.2zM90.9 230.9h1.2v1.2h-1.2zM93.9 230.9h1.2v1.2h-1.2zM134.9 230.9h1.2v1.2h-1.2zM86.9 231.9h1.2v1.2h-1.2zM88.9 231.9h1.2v1.2h-1.2zM90.9 231.9h1.2v1.2h-1.2zM98.9 231.9h1.2v1.2h-1.2zM69.9 232.9h1.2v1.2h-1.2zM73.9 232.9h1.2v1.2h-1.2zM77.9 232.9h2.2v1.2h-2.2zM80.9 232.9h1.2v1.2h-1.2zM84.9 232.9h1.2v1.2h-1.2zM86.9 232.9h1.2v1.2h-1.2zM88.9 232.9h1.2v1.2h-1.2zM90.9 232.9h2.2v1.2h-2.2zM93.9 232.9h1.2v1.2h-1.2zM95.9 232.9h1.2v1.2h-1.2zM98.9 232.9h1.2v1.2h-1.2zM119.9 232.9h1.2v1.2h-1.2zM63.9 233.9h1.2v1.2h-1.2zM73.9 233.9h1.2v1.2h-1.2zM75.9 233.9h1.2v1.2h-1.2zM78.9 233.9h1.2v1.2h-1.2zM81.9 233.9h1.2v1.2h-1.2zM83.9 233.9h2.2v1.2h-2.2zM88.9 233.9h6.2v1.2h-6.2zM95.9 233.9h1.2v1.2h-1.2zM98.9 233.9h1.2v1.2h-1.2zM71.9 234.9h1.2v1.2h-1.2zM75.9 234.9h1.2v1.2h-1.2zM77.9 234.9h1.2v1.2h-1.2zM80.9 234.9h3.2v1.2h-3.2zM84.9 234.9h1.2v1.2h-1.2zM86.9 234.9h2.2v1.2h-2.2zM89.9 234.9h6.2v1.2h-6.2zM96.9 234.9h1.2v1.2h-1.2zM98.9 234.9h2.2v1.2h-2.2zM70.9 235.9h1.2v1.2h-1.2zM72.9 235.9h2.2v1.2h-2.2zM75.9 235.9h1.2v1.2h-1.2zM77.9 235.9h8.2v1.2h-8.2zM86.9 235.9h13.2v1.2h-13.2zM69.9 236.9h1.2v1.2h-1.2zM71.9 236.9h27.2v1.2h-27.2zM117.9 236.9h1.2v1.2h-1.2zM68.9 237.9h1.2v1.2h-1.2zM71.9 237.9h1.2v1.2h-1.2zM73.9 237.9h26.2v1.2h-26.2zM63.9 238.9h1.2v1.2h-1.2zM65.9 238.9h1.2v1.2h-1.2zM68.9 238.9h4.2v1.2h-4.2zM73.9 238.9h27.2v1.2h-27.2zM61.9 239.9h4.2v1.2h-4.2zM67.9 239.9h2.2v1.2h-2.2zM70.9 239.9h29.2v1.2h-29.2zM56.9 240.9h1.2v1.2h-1.2zM58.9 240.9h1.2v1.2h-1.2zM60.9 240.9h3.2v1.2h-3.2zM64.9 240.9h1.2v1.2h-1.2zM66.9 240.9h4.2v1.2h-4.2zM71.9 240.9h29.2v1.2h-29.2zM55.9 241.9h1.2v1.2h-1.2zM57.9 241.9h3.2v1.2h-3.2zM62.9 241.9h24.2v1.2h-24.2zM87.9 241.9h9.2v1.2h-9.2zM97.9 241.9h1.2v1.2h-1.2zM99.9 241.9h1.2v1.2h-1.2zM55.9 242.9h1.2v1.2h-1.2zM61.9 242.9h3.2v1.2h-3.2zM66.9 242.9h32.2v1.2h-32.2zM99.9 242.9h1.2v1.2h-1.2zM56.9 243.9h3.2v1.2h-3.2zM60.9 243.9h3.2v1.2h-3.2zM64.9 243.9h1.2v1.2h-1.2zM67.9 243.9h32.2v1.2h-32.2zM100.9 243.9h1.2v1.2h-1.2zM62.9 244.9h1.2v1.2h-1.2zM64.9 244.9h3.2v1.2h-3.2zM68.9 244.9h32.2v1.2h-32.2zM101.9 244.9h1.2v1.2h-1.2zM55.9 245.9h1.2v1.2h-1.2zM57.9 245.9h3.2v1.2h-3.2zM64.9 245.9h1.2v1.2h-1.2zM67.9 245.9h33.2v1.2h-33.2zM56.9 246.9h1.2v1.2h-1.2zM59.9 246.9h2.2v1.2h-2.2zM62.9 246.9h3.2v1.2h-3.2zM68.9 246.9h32.2v1.2h-32.2zM120.9 246.9h1.2v1.2h-1.2zM55.9 247.9h1.2v1.2h-1.2zM57.9 247.9h4.2v1.2h-4.2zM62.9 247.9h2.2v1.2h-2.2zM66.9 247.9h34.2v1.2h-34.2zM56.9 248.9h1.2v1.2h-1.2zM58.9 248.9h2.2v1.2h-2.2zM61.9 248.9h4.2v1.2h-4.2zM67.9 248.9h32.2v1.2h-32.2zM117.9 248.9h1.2v1.2h-1.2zM56.9 249.9h2.2v1.2h-2.2zM61.9 249.9h2.2v1.2h-2.2zM64.9 249.9h34.2v1.2h-34.2zM99.9 249.9h1.2v1.2h-1.2zM56.9 250.9h1.2v1.2h-1.2zM58.9 250.9h1.2v1.2h-1.2zM60.9 250.9h1.2v1.2h-1.2zM65.9 250.9h34.2v1.2h-34.2zM56.9 251.9h1.2v1.2h-1.2zM59.9 251.9h3.2v1.2h-3.2zM63.9 251.9h2.2v1.2h-2.2zM66.9 251.9h32.2v1.2h-32.2zM60.9 252.9h2.2v1.2h-2.2zM64.9 252.9h1.2v1.2h-1.2zM66.9 252.9h33.2v1.2h-33.2zM64.9 253.9h35.2v1.2h-35.2zM157.9 253.9h1.2v1.2h-1.2zM60.9 254.9h1.2v1.2h-1.2zM66.9 254.9h2.2v1.2h-2.2zM69.9 254.9h30.2v1.2h-30.2zM169.9 254.9h1.2v1.2h-1.2zM61.9 255.9h1.2v1.2h-1.2zM65.9 255.9h1.2v1.2h-1.2zM67.9 255.9h32.2v1.2h-32.2zM57.9 256.9h1.2v1.2h-1.2zM60.9 256.9h1.2v1.2h-1.2zM65.9 256.9h2.2v1.2h-2.2zM68.9 256.9h31.2v1.2h-31.2zM56.9 257.9h1.2v1.2h-1.2zM65.9 257.9h34.2v1.2h-34.2zM55.9 258.9h1.2v1.2h-1.2zM64.9 258.9h1.2v1.2h-1.2zM66.9 258.9h33.2v1.2h-33.2zM109.9 258.9h1.2v1.2h-1.2zM56.9 259.9h1.2v1.2h-1.2zM58.9 259.9h1.2v1.2h-1.2zM63.9 259.9h1.2v1.2h-1.2zM67.9 259.9h32.2v1.2h-32.2zM140.9 259.9h1.2v1.2h-1.2zM57.9 260.9h1.2v1.2h-1.2zM65.9 260.9h3.2v1.2h-3.2zM69.9 260.9h30.2v1.2h-30.2zM56.9 261.9h1.2v1.2h-1.2zM61.9 261.9h1.2v1.2h-1.2zM64.9 261.9h35.2v1.2h-35.2zM62.9 262.9h1.2v1.2h-1.2zM65.9 262.9h1.2v1.2h-1.2zM67.9 262.9h32.2v1.2h-32.2zM55.9 263.9h1.2v1.2h-1.2zM58.9 263.9h1.2v1.2h-1.2zM63.9 263.9h2.2v1.2h-2.2zM68.9 263.9h9.2v1.2h-9.2zM78.9 263.9h20.2v1.2h-20.2zM56.9 264.9h3.2v1.2h-3.2zM66.9 264.9h1.2v1.2h-1.2zM70.9 264.9h29.2v1.2h-29.2zM58.9 265.9h1.2v1.2h-1.2zM63.9 265.9h1.2v1.2h-1.2zM67.9 265.9h32.2v1.2h-32.2zM128.9 265.9h1.2v1.2h-1.2zM68.9 266.9h2.2v1.2h-2.2zM71.9 266.9h29.2v1.2h-29.2zM58.9 267.9h1.2v1.2h-1.2zM69.9 267.9h30.2v1.2h-30.2zM57.9 268.9h1.2v1.2h-1.2zM61.9 268.9h1.2v1.2h-1.2zM68.9 268.9h1.2v1.2h-1.2zM70.9 268.9h29.2v1.2h-29.2zM160.9 268.9h1.2v1.2h-1.2zM66.9 269.9h1.2v1.2h-1.2zM71.9 269.9h1.2v1.2h-1.2zM73.9 269.9h27.2v1.2h-27.2zM62.9 270.9h1.2v1.2h-1.2zM69.9 270.9h1.2v1.2h-1.2zM71.9 270.9h1.2v1.2h-1.2zM73.9 270.9h27.2v1.2h-27.2zM136.9 270.9h1.2v1.2h-1.2zM71.9 271.9h1.2v1.2h-1.2zM73.9 271.9h3.2v1.2h-3.2zM77.9 271.9h23.2v1.2h-23.2zM114.9 271.9h1.2v1.2h-1.2z" fill="#000"/>
<rect x="55.50" y="162.10" width="117.50" height="111.20" fill="none" stroke="#000" stroke-width="1.5"/>
<line x1="100.30" y1="162.10" x2="100.30" y2="273.30" stroke="#000" stroke-width="1.3"/>
<line x1="55.50" y1="226.30" x2="173.00" y2="226.30" stroke="#000" stroke-width="1.3"/>
<path d="M56.20 273.30v5.5M64.90 273.30v3.2M69.99 273.30v3.2M73.60 273.30v3.2M76.40 273.30v3.2M78.69 273.30v3.2M80.62 273.30v3.2M82.30 273.30v3.2M83.78 273.30v3.2M85.10 273.30v5.5M93.80 273.30v3.2M98.89 273.30v3.2M102.50 273.30v3.2M105.30 273.30v3.2M107.59 273.30v3.2M109.52 273.30v3.2M111.20 273.30v3.2M112.68 273.30v3.2M114.00 273.30v5.5M122.70 273.30v3.2M127.79 273.30v3.2M131.40 273.30v3.2M134.20 273.30v3.2M136.49 273.30v3.2M138.42 273.30v3.2M140.10 273.30v3.2M141.58 273.30v3.2M142.90 273.30v5.5M151.60 273.30v3.2M156.69 273.30v3.2M160.30 273.30v3.2M163.10 273.30v3.2M165.39 273.30v3.2M167.32 273.30v3.2M169.00 273.30v3.2M170.48 273.30v3.2M171.80 273.30v5.5M55.50 272.90h-5.2M55.50 264.65h-2.8M55.50 259.83h-2.8M55.50 256.40h-2.8M55.50 253.75h-2.8M55.50 251.58h-2.8M55.50 249.74h-2.8M55.50 248.16h-2.8M55.50 246.75h-2.8M55.50 245.50h-5.2M55.50 237.25h-2.8M55.50 232.43h-2.8M55.50 229.00h-2.8M55.50 226.35h-2.8M55.50 224.18h-2.8M55.50 222.34h-2.8M55.50 220.76h-2.8M55.50 219.35h-2.8M55.50 218.10h-5.2M55.50 209.85h-2.8M55.50 205.03h-2.8M55.50 201.60h-2.8M55.50 198.95h-2.8M55.50 196.78h-2.8M55.50 194.94h-2.8M55.50 193.36h-2.8M55.50 191.95h-2.8M55.50 190.70h-5.2M55.50 182.45h-2.8M55.50 177.63h-2.8M55.50 174.20h-2.8M55.50 171.55h-2.8M55.50 169.38h-2.8M55.50 167.54h-2.8M55.50 165.96h-2.8M55.50 164.55h-2.8M55.50 163.30h-5.2" stroke="#000" stroke-width="1.5" fill="none"/>
<g transform="translate(48.00,289.60) scale(0.86,1)"><text x="0.00" y="0.00" font-size="11.5" font-weight="normal" font-style="normal" letter-spacing="0.000"> 0</text><path transform="translate(0.00,0.00) scale(0.005615,-0.005615)" d="M763 0H583V1100Q518 1040 412 980Q307 920 223 890V1060Q374 1128 487 1225Q600 1322 647 1409H763Z" fill="#000"/><text x="14.09" y="-4.80" font-size="10.2" font-weight="normal" font-style="normal" letter-spacing="0.000">0</text></g>
<g transform="translate(76.90,289.60) scale(0.86,1)"><text x="0.00" y="0.00" font-size="11.5" font-weight="normal" font-style="normal" letter-spacing="0.000"> 0</text><path transform="translate(0.00,0.00) scale(0.005615,-0.005615)" d="M763 0H583V1100Q518 1040 412 980Q307 920 223 890V1060Q374 1128 487 1225Q600 1322 647 1409H763Z" fill="#000"/><text x="14.09" y="-4.80" font-size="10.2" font-weight="normal" font-style="normal" letter-spacing="0.000"> </text><path transform="translate(14.09,-4.80) scale(0.004980,-0.004980)" d="M763 0H583V1100Q518 1040 412 980Q307 920 223 890V1060Q374 1128 487 1225Q600 1322 647 1409H763Z" fill="#000"/></g>
<g transform="translate(105.80,289.60) scale(0.86,1)"><text x="0.00" y="0.00" font-size="11.5" font-weight="normal" font-style="normal" letter-spacing="0.000"> 0</text><path transform="translate(0.00,0.00) scale(0.005615,-0.005615)" d="M763 0H583V1100Q518 1040 412 980Q307 920 223 890V1060Q374 1128 487 1225Q600 1322 647 1409H763Z" fill="#000"/><text x="14.09" y="-4.80" font-size="10.2" font-weight="normal" font-style="normal" letter-spacing="0.000">2</text></g>
<g transform="translate(134.70,289.60) scale(0.86,1)"><text x="0.00" y="0.00" font-size="11.5" font-weight="normal" font-style="normal" letter-spacing="0.000"> 0</text><path transform="translate(0.00,0.00) scale(0.005615,-0.005615)" d="M763 0H583V1100Q518 1040 412 980Q307 920 223 890V1060Q374 1128 487 1225Q600 1322 647 1409H763Z" fill="#000"/><text x="14.09" y="-4.80" font-size="10.2" font-weight="normal" font-style="normal" letter-spacing="0.000">3</text></g>
<g transform="translate(163.60,289.60) scale(0.86,1)"><text x="0.00" y="0.00" font-size="11.5" font-weight="normal" font-style="normal" letter-spacing="0.000"> 0</text><path transform="translate(0.00,0.00) scale(0.005615,-0.005615)" d="M763 0H583V1100Q518 1040 412 980Q307 920 223 890V1060Q374 1128 487 1225Q600 1322 647 1409H763Z" fill="#000"/><text x="14.09" y="-4.80" font-size="10.2" font-weight="normal" font-style="normal" letter-spacing="0.000">4</text></g>
<g transform="translate(46.60,281.70) rotate(-90) scale(0.86,1)"><text x="0.00" y="0.00" font-size="11.5" font-weight="normal" font-style="normal" letter-spacing="0.000"> 0</text><path transform="translate(0.00,0.00) scale(0.005615,-0.005615)" d="M763 0H583V1100Q518 1040 412 980Q307 920 223 890V1060Q374 1128 487 1225Q600 1322 647 1409H763Z" fill="#000"/><text x="14.09" y="-4.80" font-size="10.2" font-weight="normal" font-style="normal" letter-spacing="0.000">0</text></g>
<g transform="translate(46.60,254.30) rotate(-90) scale(0.86,1)"><text x="0.00" y="0.00" font-size="11.5" font-weight="normal" font-style="normal" letter-spacing="0.000"> 0</text><path transform="translate(0.00,0.00) scale(0.005615,-0.005615)" d="M763 0H583V1100Q518 1040 412 980Q307 920 223 890V1060Q374 1128 487 1225Q600 1322 647 1409H763Z" fill="#000"/><text x="14.09" y="-4.80" font-size="10.2" font-weight="normal" font-style="normal" letter-spacing="0.000"> </text><path transform="translate(14.09,-4.80) scale(0.004980,-0.004980)" d="M763 0H583V1100Q518 1040 412 980Q307 920 223 890V1060Q374 1128 487 1225Q600 1322 647 1409H763Z" fill="#000"/></g>
<g transform="translate(46.60,226.90) rotate(-90) scale(0.86,1)"><text x="0.00" y="0.00" font-size="11.5" font-weight="normal" font-style="normal" letter-spacing="0.000"> 0</text><path transform="translate(0.00,0.00) scale(0.005615,-0.005615)" d="M763 0H583V1100Q518 1040 412 980Q307 920 223 890V1060Q374 1128 487 1225Q600 1322 647 1409H763Z" fill="#000"/><text x="14.09" y="-4.80" font-size="10.2" font-weight="normal" font-style="normal" letter-spacing="0.000">2</text></g>
<g transform="translate(46.60,199.50) rotate(-90) scale(0.86,1)"><text x="0.00" y="0.00" font-size="11.5" font-weight="normal" font-style="normal" letter-spacing="0.000"> 0</text><path transform="translate(0.00,0.00) scale(0.005615,-0.005615)" d="M763 0H583V1100Q518 1040 412 980Q307 920 223 890V1060Q374 1128 487 1225Q600 1322 647 1409H763Z" fill="#000"/><text x="14.09" y="-4.80" font-size="10.2" font-weight="normal" font-style="normal" letter-spacing="0.000">3</text></g>
<g transform="translate(46.60,172.10) rotate(-90) scale(0.86,1)"><text x="0.00" y="0.00" font-size="11.5" font-weight="normal" font-style="normal" letter-spacing="0.000"> 0</text><path transform="translate(0.00,0.00) scale(0.005615,-0.005615)" d="M763 0H583V1100Q518 1040 412 980Q307 920 223 890V1060Q374 1128 487 1225Q600 1322 647 1409H763Z" fill="#000"/><text x="14.09" y="-4.80" font-size="10.2" font-weight="normal" font-style="normal" letter-spacing="0.000">4</text></g>
<text x="138.48" y="176.20" font-size="14.3" font-weight="normal" font-style="normal" letter-spacing="-0.529">2.7%</text>
<line x1="30.60" y1="87.20" x2="32.20" y2="89.00" stroke="#333" stroke-width="1.0"/>
<line x1="33.00" y1="228.50" x2="34.50" y2="230.30" stroke="#333" stroke-width="1.0"/>
<text transform="translate(194.00,112.40) rotate(-90)" x="-0.61" y="0" font-size="15.2" font-weight="bold" font-style="normal" letter-spacing="-0.012">CpG <tspan font-style="italic">in vivo</tspan></text>
<text transform="translate(197.80,260.80) rotate(-90)" x="-0.61" y="0" font-size="15.2" font-weight="bold" font-style="normal" letter-spacing="-0.024">CpG <tspan font-style="italic">ex vivo</tspan></text>
<g transform="translate(22.60,281.40) rotate(-90)"><text x="-0.15" y="0.00" font-size="14.7" font-weight="bold" font-style="normal" letter-spacing="0.265">Thy . </text><path transform="translate(26.78,0.00) scale(0.007178,-0.007178)" d="M840 0H559V1015Q405 878 196 812V1057Q306 1092 435 1188Q564 1284 612 1409H840Z" fill="#000"/><path transform="translate(39.57,0.00) scale(0.007178,-0.007178)" d="M840 0H559V1015Q405 878 196 812V1057Q306 1092 435 1188Q564 1284 612 1409H840Z" fill="#000"/></g>
<line x1="19.00" y1="229.60" x2="19.00" y2="75.00" stroke="#000" stroke-width="2.0"/>
<polygon points="14.5,75.8 23.2,75.8 18.85,67.4" fill="#000"/>
<text x="48.86" y="311.30" font-size="14.4" font-weight="bold" font-style="normal" letter-spacing="-0.165">IFN-</text>
<text x="76.6" y="311.3" font-size="14.4">γ</text>
<line x1="89.80" y1="307.80" x2="125.00" y2="307.80" stroke="#000" stroke-width="1.9"/>
<polygon points="124.2,303.3 124.2,312.3 133.1,307.8" fill="#000"/>
<line x1="313.85" y1="26.00" x2="313.85" y2="258.50" stroke="#000" stroke-width="1.7"/>
<line x1="308.65" y1="253.70" x2="518.60" y2="253.70" stroke="#000" stroke-width="1.6"/>
<line x1="308.65" y1="208.16" x2="313.85" y2="208.16" stroke="#000" stroke-width="1.6"/>
<line x1="308.65" y1="162.62" x2="313.85" y2="162.62" stroke="#000" stroke-width="1.6"/>
<line x1="308.65" y1="117.08" x2="313.85" y2="117.08" stroke="#000" stroke-width="1.6"/>
<line x1="308.65" y1="71.54" x2="313.85" y2="71.54" stroke="#000" stroke-width="1.6"/>
<line x1="308.65" y1="26.00" x2="313.85" y2="26.00" stroke="#000" stroke-width="1.6"/>
<text x="292.72" y="259.50" font-size="16.5" font-weight="normal" font-style="normal" letter-spacing="0.000">0</text>
<text x="292.80" y="213.96" font-size="16.5" font-weight="normal" font-style="normal" letter-spacing="0.000">5</text>
<text x="283.56" y="168.42" font-size="16.5" font-weight="normal" font-style="normal" letter-spacing="0.000"> 0</text><path transform="translate(283.56,168.42) scale(0.008057,-0.008057)" d="M763 0H583V1100Q518 1040 412 980Q307 920 223 890V1060Q374 1128 487 1225Q600 1322 647 1409H763Z" fill="#000"/>
<text x="283.64" y="122.88" font-size="16.5" font-weight="normal" font-style="normal" letter-spacing="0.000"> 5</text><path transform="translate(283.64,122.88) scale(0.008057,-0.008057)" d="M763 0H583V1100Q518 1040 412 980Q307 920 223 890V1060Q374 1128 487 1225Q600 1322 647 1409H763Z" fill="#000"/>
<text x="283.56" y="77.34" font-size="16.5" font-weight="normal" font-style="normal" letter-spacing="0.000">20</text>
<text x="283.65" y="31.80" font-size="16.5" font-weight="normal" font-style="normal" letter-spacing="-0.000">25</text>
<line x1="382.55" y1="253.70" x2="382.55" y2="258.50" stroke="#000" stroke-width="1.5"/>
<line x1="451.25" y1="253.70" x2="451.25" y2="258.50" stroke="#000" stroke-width="1.5"/>
<rect x="328.90" y="245.60" width="18.70" height="8.10" fill="#fff" stroke="#000" stroke-width="1.2"/>
<line x1="332.45" y1="244.10" x2="344.05" y2="244.10" stroke="#000" stroke-width="1.5"/>
<line x1="358.60" y1="235.20" x2="358.60" y2="234.30" stroke="#000" stroke-width="1.6"/>
<line x1="352.80" y1="234.30" x2="364.40" y2="234.30" stroke="#000" stroke-width="1.6"/>
<rect x="348.30" y="235.20" width="20.60" height="18.50" fill="#000"/>
<rect x="397.80" y="241.90" width="18.60" height="11.80" fill="#fff" stroke="#000" stroke-width="1.2"/>
<line x1="401.30" y1="240.50" x2="412.90" y2="240.50" stroke="#000" stroke-width="1.5"/>
<line x1="426.90" y1="72.30" x2="426.90" y2="44.80" stroke="#000" stroke-width="1.6"/>
<line x1="421.10" y1="44.80" x2="432.70" y2="44.80" stroke="#000" stroke-width="1.6"/>
<rect x="416.90" y="72.30" width="20.00" height="181.40" fill="#000"/>
<rect x="465.20" y="241.90" width="19.20" height="11.80" fill="#fff" stroke="#000" stroke-width="1.2"/>
<line x1="469.00" y1="240.50" x2="480.60" y2="240.50" stroke="#000" stroke-width="1.5"/>
<line x1="495.40" y1="235.10" x2="495.40" y2="233.20" stroke="#000" stroke-width="1.6"/>
<line x1="489.60" y1="233.20" x2="501.20" y2="233.20" stroke="#000" stroke-width="1.6"/>
<rect x="485.10" y="235.10" width="20.60" height="18.60" fill="#000"/>
<text x="318.30" y="282.80" font-size="16.2" font-weight="normal" font-style="normal" letter-spacing="0.330">No CpG</text>
<text x="390.69" y="282.80" font-size="16.2" font-weight="normal" font-style="normal" letter-spacing="0.416">CpG in</text>
<text x="403.62" y="304.80" font-size="16.2" font-weight="normal" font-style="normal" letter-spacing="0.258">vivo</text>
<text x="457.39" y="282.80" font-size="16.2" font-weight="normal" font-style="normal" letter-spacing="0.371">CpG ex</text>
<text x="471.12" y="304.80" font-size="16.2" font-weight="normal" font-style="normal" letter-spacing="-0.009">vivo</text>
<g transform="translate(273.80,215.20) rotate(-90)"><text x="-0.40" y="0.00" font-size="15.8" font-weight="bold" font-style="normal" letter-spacing="0.059">% Total CD8 T cells</text></g>
<rect x="333.3" y="19.5" width="9.6" height="9.0" fill="#fff" stroke="#000" stroke-width="1.3"/>
<rect x="332.7" y="38.1" width="10.8" height="9.9" fill="#000"/>
<text x="348.60" y="28.80" font-size="16.2" font-weight="normal" font-style="normal" letter-spacing="0.353">DC-Con</text>
<text x="348.60" y="47.80" font-size="16.2" font-weight="normal" font-style="normal" letter-spacing="-0.019">DC-HA</text>
<line x1="74.30" y1="363.50" x2="74.30" y2="641.50" stroke="#000" stroke-width="1.5"/>
<line x1="68.80" y1="585.90" x2="74.30" y2="585.90" stroke="#000" stroke-width="1.5"/>
<line x1="68.80" y1="530.30" x2="74.30" y2="530.30" stroke="#000" stroke-width="1.5"/>
<line x1="68.80" y1="474.70" x2="74.30" y2="474.70" stroke="#000" stroke-width="1.5"/>
<line x1="68.80" y1="419.10" x2="74.30" y2="419.10" stroke="#000" stroke-width="1.5"/>
<line x1="68.80" y1="363.50" x2="74.30" y2="363.50" stroke="#000" stroke-width="1.5"/>
<text x="51.96" y="647.60" font-size="17" font-weight="normal" font-style="normal" letter-spacing="0.000">0</text>
<text x="42.52" y="592.00" font-size="17" font-weight="normal" font-style="normal" letter-spacing="-0.000">20</text>
<text x="42.52" y="536.40" font-size="17" font-weight="normal" font-style="normal" letter-spacing="0.000">40</text>
<text x="42.52" y="480.80" font-size="17" font-weight="normal" font-style="normal" letter-spacing="-0.000">60</text>
<text x="42.52" y="425.20" font-size="17" font-weight="normal" font-style="normal" letter-spacing="0.000">80</text>
<text x="33.09" y="369.60" font-size="17" font-weight="normal" font-style="normal" letter-spacing="0.000"> 00</text><path transform="translate(33.09,369.60) scale(0.008301,-0.008301)" d="M763 0H583V1100Q518 1040 412 980Q307 920 223 890V1060Q374 1128 487 1225Q600 1322 647 1409H763Z" fill="#000"/>
<line x1="74.30" y1="641.50" x2="74.30" y2="647.00" stroke="#000" stroke-width="1.5"/>
<text x="70.44" y="673.80" font-size="17" font-weight="normal" font-style="normal" letter-spacing="0.000">0</text>
<line x1="135.26" y1="641.50" x2="135.26" y2="647.00" stroke="#000" stroke-width="1.5"/>
<text x="131.44" y="673.80" font-size="17" font-weight="normal" font-style="normal" letter-spacing="0.000">2</text>
<line x1="196.21" y1="641.50" x2="196.21" y2="647.00" stroke="#000" stroke-width="1.5"/>
<text x="192.48" y="673.80" font-size="17" font-weight="normal" font-style="normal" letter-spacing="0.000">4</text>
<line x1="257.17" y1="641.50" x2="257.17" y2="647.00" stroke="#000" stroke-width="1.5"/>
<text x="253.27" y="673.80" font-size="17" font-weight="normal" font-style="normal" letter-spacing="0.000">6</text>
<line x1="318.13" y1="641.50" x2="318.13" y2="647.00" stroke="#000" stroke-width="1.5"/>
<text x="314.27" y="673.80" font-size="17" font-weight="normal" font-style="normal" letter-spacing="0.000">8</text>
<line x1="379.09" y1="641.50" x2="379.09" y2="647.00" stroke="#000" stroke-width="1.5"/>
<text x="369.92" y="673.80" font-size="17" font-weight="normal" font-style="normal" letter-spacing="0.000"> 0</text><path transform="translate(369.92,673.80) scale(0.008301,-0.008301)" d="M763 0H583V1100Q518 1040 412 980Q307 920 223 890V1060Q374 1128 487 1225Q600 1322 647 1409H763Z" fill="#000"/>
<line x1="440.04" y1="641.50" x2="440.04" y2="647.00" stroke="#000" stroke-width="1.5"/>
<text x="431.01" y="673.80" font-size="17" font-weight="normal" font-style="normal" letter-spacing="0.000"> 2</text><path transform="translate(431.01,673.80) scale(0.008301,-0.008301)" d="M763 0H583V1100Q518 1040 412 980Q307 920 223 890V1060Q374 1128 487 1225Q600 1322 647 1409H763Z" fill="#000"/>
<line x1="501.00" y1="641.50" x2="501.00" y2="647.00" stroke="#000" stroke-width="1.5"/>
<text x="491.79" y="673.80" font-size="17" font-weight="normal" font-style="normal" letter-spacing="0.000"> 4</text><path transform="translate(491.79,673.80) scale(0.008301,-0.008301)" d="M763 0H583V1100Q518 1040 412 980Q307 920 223 890V1060Q374 1128 487 1225Q600 1322 647 1409H763Z" fill="#000"/>
<g transform="translate(24.60,555.40) rotate(-90)"><text x="-0.51" y="0.00" font-size="17" font-weight="bold" font-style="normal" letter-spacing="0.112">Survival (%)</text></g>
<text x="235.13" y="703.70" font-size="17" font-weight="bold" font-style="normal" letter-spacing="0.038">Time (weeks)</text>
<path d="M74.30 363.50H379.09M379.09 641.50V585.90M379.09 419.10V363.50M226.69 419.10H257.17M379.09 419.10H440.04M440.04 446.90V419.10M196.21 446.90H226.69M257.17 446.90H287.65M440.04 446.90H501.00M196.21 474.70V363.50M196.21 391.30H226.69M226.69 502.50V446.90M226.69 419.10V391.30M257.17 585.90V474.70M257.17 446.90V419.10M287.65 641.50V558.10M287.65 502.50V446.90M226.69 502.50H257.17M287.65 502.50H318.13M318.13 641.50V613.70M318.13 585.90V502.50M257.17 585.90H287.65M318.13 585.90H379.09M196.21 474.70H257.17M257.17 558.10H287.65M287.65 613.70H318.13" fill="none" stroke="#111" stroke-width="1.4"/>
<polygon points="69.70,368.48 78.90,368.48 74.30,359.08" fill="#000" stroke="#000" stroke-width="1.2" stroke-linejoin="miter"/>
<polygon points="191.61,368.48 200.81,368.48 196.21,359.08" fill="#000" stroke="#000" stroke-width="1.2" stroke-linejoin="miter"/>
<polygon points="222.09,368.48 231.29,368.48 226.69,359.08" fill="#000" stroke="#000" stroke-width="1.2" stroke-linejoin="miter"/>
<polygon points="252.57,368.48 261.77,368.48 257.17,359.08" fill="#000" stroke="#000" stroke-width="1.2" stroke-linejoin="miter"/>
<polygon points="283.05,368.48 292.25,368.48 287.65,359.08" fill="#000" stroke="#000" stroke-width="1.2" stroke-linejoin="miter"/>
<polygon points="313.53,368.48 322.73,368.48 318.13,359.08" fill="#000" stroke="#000" stroke-width="1.2" stroke-linejoin="miter"/>
<polygon points="344.01,368.48 353.21,368.48 348.61,359.08" fill="#000" stroke="#000" stroke-width="1.2" stroke-linejoin="miter"/>
<polygon points="374.49,368.48 383.69,368.48 379.09,359.08" fill="#000" stroke="#000" stroke-width="1.2" stroke-linejoin="miter"/>
<polygon points="374.49,424.08 383.69,424.08 379.09,414.68" fill="#000" stroke="#000" stroke-width="1.2" stroke-linejoin="miter"/>
<polygon points="435.44,424.08 444.64,424.08 440.04,414.68" fill="#000" stroke="#000" stroke-width="1.2" stroke-linejoin="miter"/>
<polygon points="435.44,451.88 444.64,451.88 440.04,442.48" fill="#000" stroke="#000" stroke-width="1.2" stroke-linejoin="miter"/>
<polygon points="496.40,451.88 505.60,451.88 501.00,442.48" fill="#000" stroke="#000" stroke-width="1.2" stroke-linejoin="miter"/>
<polygon points="69.70,368.48 78.90,368.48 74.30,359.08" fill="#fff" stroke="#000" stroke-width="1.2" stroke-linejoin="miter"/>
<polygon points="191.61,396.28 200.81,396.28 196.21,386.88" fill="#fff" stroke="#000" stroke-width="1.2" stroke-linejoin="miter"/>
<polygon points="222.09,396.28 231.29,396.28 226.69,386.88" fill="#fff" stroke="#000" stroke-width="1.2" stroke-linejoin="miter"/>
<polygon points="222.09,424.08 231.29,424.08 226.69,414.68" fill="#fff" stroke="#000" stroke-width="1.2" stroke-linejoin="miter"/>
<polygon points="252.57,424.08 261.77,424.08 257.17,414.68" fill="#fff" stroke="#000" stroke-width="1.2" stroke-linejoin="miter"/>
<polygon points="252.57,451.88 261.77,451.88 257.17,442.48" fill="#fff" stroke="#000" stroke-width="1.2" stroke-linejoin="miter"/>
<polygon points="283.05,451.88 292.25,451.88 287.65,442.48" fill="#fff" stroke="#000" stroke-width="1.2" stroke-linejoin="miter"/>
<polygon points="283.05,507.48 292.25,507.48 287.65,498.08" fill="#fff" stroke="#000" stroke-width="1.2" stroke-linejoin="miter"/>
<polygon points="313.53,507.48 322.73,507.48 318.13,498.08" fill="#fff" stroke="#000" stroke-width="1.2" stroke-linejoin="miter"/>
<polygon points="313.53,590.88 322.73,590.88 318.13,581.48" fill="#fff" stroke="#000" stroke-width="1.2" stroke-linejoin="miter"/>
<polygon points="344.01,590.88 353.21,590.88 348.61,581.48" fill="#fff" stroke="#000" stroke-width="1.2" stroke-linejoin="miter"/>
<polygon points="374.49,590.88 383.69,590.88 379.09,581.48" fill="#fff" stroke="#000" stroke-width="1.2" stroke-linejoin="miter"/>
<polygon clip-path="url(#c0)" points="374.49,646.48 383.69,646.48 379.09,637.08" fill="#fff" stroke="#000" stroke-width="1.2" stroke-linejoin="miter"/>
<ellipse cx="74.30" cy="363.50" rx="4.25" ry="4.9" fill="#000" stroke="#000" stroke-width="1.2"/>
<ellipse cx="196.21" cy="446.90" rx="4.25" ry="4.9" fill="#000" stroke="#000" stroke-width="1.2"/>
<ellipse cx="226.69" cy="446.90" rx="4.25" ry="4.9" fill="#000" stroke="#000" stroke-width="1.2"/>
<ellipse cx="257.17" cy="474.70" rx="4.25" ry="4.9" fill="#000" stroke="#000" stroke-width="1.2"/>
<ellipse cx="257.17" cy="558.10" rx="4.25" ry="4.9" fill="#000" stroke="#000" stroke-width="1.2"/>
<ellipse cx="287.65" cy="558.10" rx="4.25" ry="4.9" fill="#000" stroke="#000" stroke-width="1.2"/>
<ellipse cx="287.65" cy="613.70" rx="4.25" ry="4.9" fill="#000" stroke="#000" stroke-width="1.2"/>
<ellipse cx="318.13" cy="613.70" rx="4.25" ry="4.9" fill="#000" stroke="#000" stroke-width="1.2"/>
<ellipse clip-path="url(#c0)" cx="318.13" cy="641.50" rx="4.25" ry="4.9" fill="#000" stroke="#000" stroke-width="1.2"/>
<ellipse cx="74.30" cy="363.50" rx="4.25" ry="4.9" fill="#fff" stroke="#000" stroke-width="1.2"/>
<ellipse cx="196.21" cy="363.50" rx="4.25" ry="4.9" fill="#fff" stroke="#000" stroke-width="1.2"/>
<ellipse cx="196.21" cy="474.70" rx="4.25" ry="4.9" fill="#fff" stroke="#000" stroke-width="1.2"/>
<ellipse cx="226.69" cy="474.70" rx="4.25" ry="4.9" fill="#fff" stroke="#000" stroke-width="1.2"/>
<ellipse cx="226.69" cy="502.50" rx="4.25" ry="4.9" fill="#fff" stroke="#000" stroke-width="1.2"/>
<ellipse cx="257.17" cy="502.50" rx="4.25" ry="4.9" fill="#fff" stroke="#000" stroke-width="1.2"/>
<ellipse cx="257.17" cy="585.90" rx="4.25" ry="4.9" fill="#fff" stroke="#000" stroke-width="1.2"/>
<ellipse cx="287.65" cy="585.90" rx="4.25" ry="4.9" fill="#fff" stroke="#000" stroke-width="1.2"/>
<ellipse clip-path="url(#c0)" cx="287.65" cy="641.50" rx="4.25" ry="4.9" fill="#fff" stroke="#000" stroke-width="1.2"/>
<line x1="68.80" y1="641.50" x2="501.00" y2="641.50" stroke="#000" stroke-width="1.5"/>
<line x1="87.70" y1="553.80" x2="123.60" y2="553.80" stroke="#000" stroke-width="1.5"/>
<polygon points="100.90,558.78 110.10,558.78 105.50,549.38" fill="#000" stroke="#000" stroke-width="1.2" stroke-linejoin="miter"/>
<text x="127.38" y="559.10" font-size="15.3" font-weight="normal" font-style="normal" letter-spacing="0.168">DC-HA +CpG</text>
<line x1="87.70" y1="578.30" x2="123.60" y2="578.30" stroke="#000" stroke-width="1.5"/>
<polygon points="100.90,583.28 110.10,583.28 105.50,573.88" fill="#fff" stroke="#000" stroke-width="1.2" stroke-linejoin="miter"/>
<text x="127.38" y="582.50" font-size="15.3" font-weight="normal" font-style="normal" letter-spacing="0.350">DC-HA</text>
<line x1="87.70" y1="601.50" x2="123.60" y2="601.50" stroke="#000" stroke-width="1.5"/>
<ellipse cx="105.50" cy="601.50" rx="4.25" ry="4.9" fill="#000" stroke="#000" stroke-width="1.2"/>
<text x="127.38" y="606.20" font-size="15.3" font-weight="normal" font-style="normal" letter-spacing="0.216">DC-Con +CpG</text>
<line x1="87.70" y1="625.00" x2="123.60" y2="625.00" stroke="#000" stroke-width="1.5"/>
<ellipse cx="105.50" cy="625.00" rx="4.25" ry="4.9" fill="#fff" stroke="#000" stroke-width="1.2"/>
<text x="127.38" y="629.80" font-size="15.3" font-weight="normal" font-style="normal" letter-spacing="0.350">DC-Con</text>
</svg>
</body></html>
